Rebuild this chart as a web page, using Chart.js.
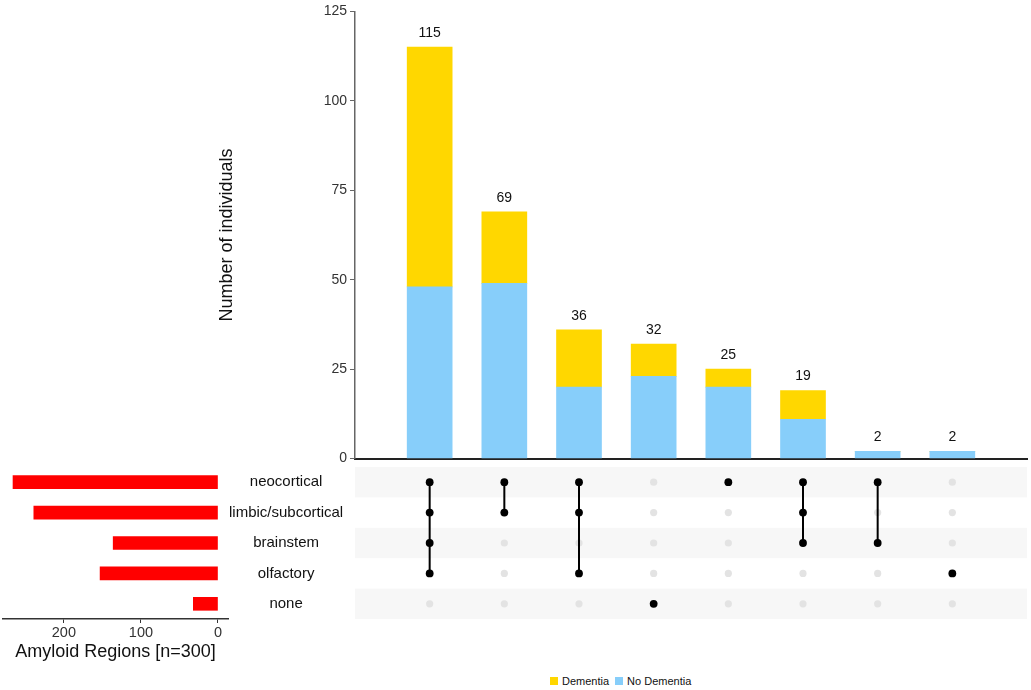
<!DOCTYPE html>
<html>
<head>
<meta charset="utf-8">
<script src="https://cdn.jsdelivr.net/npm/chart.js@4"></script>
<style>
  body { margin: 0; background: #fff; width: 1031px; height: 690px; position: relative; overflow: hidden;
         font-family: "Liberation Sans", Arial, sans-serif; }
  canvas { position: absolute; }
  #legend { position: absolute; left: 550px; top: 675px; font-size: 11px; color: #111;
            display: flex; align-items: center; white-space: nowrap; }
  #legend .sw { display: inline-block; width: 8px; height: 8px; margin-right: 4px; }
  #legend .item { display: flex; align-items: center; margin-right: 6px; }
</style>
</head>
<body>
<canvas id="bars" width="1031" height="470" style="left:0;top:0"></canvas>
<canvas id="matrix" width="672" height="152" style="left:355px;top:467px"></canvas>
<canvas id="sets" width="355" height="233" style="left:0;top:457px"></canvas>
<div id="legend"></div>

<script>
// set names (rows of the matrix / left bars)
const sets = ['neocortical', 'limbic/subcortical', 'brainstem', 'olfactory', 'none'];
const setSizes = [266, 239, 136, 153, 32];
const setTicks = [0, 100, 200];

// intersections, left to right, as indices into sets
const intersections = [[0, 1, 2, 3], [0, 1], [0, 1, 3], [4], [0], [0, 1, 2], [0, 2], [3]];
const interNames = ['N+L+B+O', 'N+L', 'N+L+O', 'none', 'N', 'N+L+B', 'N+B', 'O'];
const noDementia = [48, 49, 20, 23, 20, 11, 2, 2];
const dementia = [67, 20, 16, 9, 5, 8, 0, 0];
const yTicks = [0, 25, 50, 75, 100, 125];

const YELLOW = '#FFD700';
const BLUE = '#87CEFA';

Chart.defaults.font.family = '"Liberation Sans", Arial, sans-serif';

// pad one empty slot on each side so the bars sit like the matrix columns
const pad = arr => [null, ...arr, null];

const totalLabels = {
  id: 'totalLabels',
  afterDatasetsDraw(chart) {
    const ctx = chart.ctx;
    const top = chart.getDatasetMeta(1);
    ctx.save();
    ctx.font = '14px "Liberation Sans", Arial, sans-serif';
    ctx.fillStyle = '#111';
    ctx.textAlign = 'center';
    ctx.textBaseline = 'bottom';
    top.data.forEach((bar, i) => {
      if (i === 0 || i > noDementia.length) return;
      const total = noDementia[i - 1] + dementia[i - 1];
      ctx.fillText(String(total), bar.x, bar.y - 7);
    });
    ctx.restore();
  }
};

new Chart(document.getElementById('bars'), {
  type: 'bar',
  data: {
    labels: ['', ...interNames, ''],
    datasets: [
      { label: 'No Dementia', data: pad(noDementia), backgroundColor: BLUE, barThickness: 45 },
      { label: 'Dementia', data: pad(dementia), backgroundColor: YELLOW, barThickness: 45 }
    ]
  },
  options: {
    responsive: false,
    animation: false,
    layout: { padding: { left: 212, right: 4, top: 9, bottom: 10 } },
    plugins: { legend: { display: false }, tooltip: { enabled: false } },
    scales: {
      x: {
        stacked: true,
        offset: false,
        grid: { display: false },
        ticks: { display: false },
        border: { color: '#222', width: 2 },
        afterFit: s => { s.height = 0; }
      },
      y: {
        stacked: true,
        min: 0,
        max: 125,
        afterBuildTicks: s => { s.ticks = yTicks.map(v => ({ value: v })); },
        afterFit: s => { s.width = 143; },
        grid: { drawOnChartArea: false, tickLength: 5, color: '#666' },
        border: { color: '#666', width: 1.5 },
        ticks: { font: { size: 14 }, color: '#333', padding: 3 },
        title: { display: true, text: 'Number of individuals', font: { size: 18 }, color: '#111', padding: 4 }
      }
    }
  },
  plugins: [totalLabels]
});

// matrix of dots
const stripes = {
  id: 'stripes',
  beforeDatasetsDraw(chart) {
    const { ctx, chartArea: { left, right }, scales: { y } } = chart;
    ctx.save();
    ctx.fillStyle = '#f7f7f7';
    sets.forEach((s, i) => {
      if (i % 2) return;
      const t = y.getPixelForValue(i - 0.5);
      const b = y.getPixelForValue(i + 0.5);
      ctx.fillRect(left, Math.min(t, b), right - left, Math.abs(b - t));
    });
    ctx.restore();
  }
};

const allDots = [];
intersections.forEach((m, c) => sets.forEach((s, r) => allDots.push({ x: c + 1, y: r })));
const memberDots = [];
intersections.forEach((m, c) => m.forEach(r => memberDots.push({ x: c + 1, y: r })));
const links = [];
intersections.forEach((m, c) => {
  if (m.length < 2) return;
  links.push({ x: c + 1, y: Math.min(...m) }, { x: c + 1, y: Math.max(...m) }, { x: c + 1, y: null });
});

new Chart(document.getElementById('matrix'), {
  type: 'scatter',
  data: {
    datasets: [
      { data: allDots, pointRadius: 3.6, pointBackgroundColor: '#e3e3e3', pointBorderWidth: 0, order: 3 },
      { type: 'line', data: links, borderColor: '#000', borderWidth: 2, pointRadius: 0, spanGaps: false, order: 2 },
      { data: memberDots, pointRadius: 3.9, pointBackgroundColor: '#000', pointBorderWidth: 0, order: 1 }
    ]
  },
  options: {
    responsive: false,
    animation: false,
    layout: { padding: 0, autoPadding: false },
    plugins: { legend: { display: false }, tooltip: { enabled: false } },
    scales: {
      x: { type: 'linear', min: 0, max: 9, display: false },
      y: { type: 'linear', min: -0.5, max: 4.5, reverse: true, display: false }
    }
  },
  plugins: [stripes]
});

// set size bars on the left
new Chart(document.getElementById('sets'), {
  type: 'bar',
  data: {
    labels: sets,
    datasets: [{ data: setSizes, backgroundColor: '#ff0000', barThickness: 13 }]
  },
  options: {
    indexAxis: 'y',
    responsive: false,
    animation: false,
    layout: { padding: { left: 3, top: 10, right: 0, bottom: 0 } },
    plugins: { legend: { display: false }, tooltip: { enabled: false } },
    scales: {
      x: {
        type: 'linear',
        reverse: true,
        min: -13,
        max: 279,
        afterBuildTicks: s => { s.ticks = setTicks.map(v => ({ value: v })); },
        afterFit: s => { s.height = 71; },
        grid: { drawOnChartArea: false, tickLength: 4, color: '#333' },
        border: { color: '#333', width: 1.5 },
        ticks: { font: { size: 14.5 }, color: '#333', padding: 1 },
        title: { display: true, text: 'Amyloid Regions [n=300]', font: { size: 18 }, color: '#111',
                 padding: { top: 0, bottom: 27 } }
      },
      y: {
        position: 'right',
        afterFit: s => { s.width = 127; },
        grid: { display: false, drawTicks: false },
        border: { display: false },
        ticks: { crossAlign: 'center', font: { size: 15 }, color: '#111', padding: 1 }
      }
    }
  }
});

// legend
const legendItems = [['Dementia', YELLOW], ['No Dementia', BLUE]];
document.getElementById('legend').innerHTML = legendItems.map(([t, c]) =>
  `<span class="item"><span class="sw" style="background:${c}"></span>${t}</span>`).join('');
</script>
</body>
</html>
